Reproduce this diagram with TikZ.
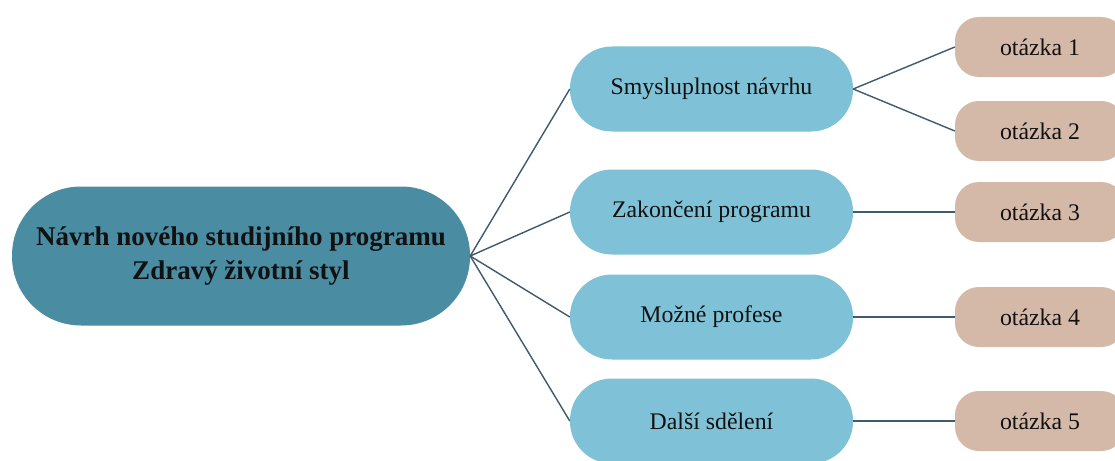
\documentclass[tikz,border=0pt]{standalone}
\usepackage{fontspec}
\setmainfont{Liberation Serif}
\definecolor{maincol}{HTML}{4A8CA2}
\definecolor{bluecol}{HTML}{7FC1D6}
\definecolor{browncol}{HTML}{D4B9A9}
\definecolor{linecol}{HTML}{3E5A6E}
\definecolor{txtcol}{HTML}{111111}
\begin{document}
\begin{tikzpicture}[x=1pt,y=-1pt,
  mainbox/.style={fill=maincol, draw=none, rounded corners=69pt, minimum width=458pt, minimum height=139pt, inner sep=0pt, align=center, text=txtcol, font=\fontsize{27}{34}\selectfont\bfseries},
  bluebox/.style={fill=bluecol, draw=none, rounded corners=42pt, minimum width=283pt, minimum height=85pt, inner sep=0pt, text=txtcol, font=\fontsize{23.8}{28}\selectfont},
  brownbox/.style={fill=browncol, draw=none, rounded corners=24pt, minimum width=170pt, minimum height=60pt, inner sep=0pt, text=txtcol, font=\fontsize{23.8}{28}\selectfont},
  conn/.style={draw=linecol, line width=1.4pt}]
\clip (0,0) rectangle (1115,460);
\fill[white] (0,0) rectangle (1115,460);
\node[mainbox] (main) at (241,256) {Návrh nového studijního programu\\Zdravý životní styl};
\node[bluebox] (b1) at (711.5,89) {Smysluplnost návrhu};
\node[bluebox] (b2) at (711.5,212) {Zakončení programu};
\node[bluebox] (b3) at (711.5,317) {Možné profese};
\node[bluebox] (b4) at (711.5,421) {Další sdělení};
\node[brownbox] (q1) at (1040,47) {otázka 1};
\node[brownbox] (q2) at (1040,131) {otázka 2};
\node[brownbox] (q3) at (1040,212) {otázka 3};
\node[brownbox] (q4) at (1040,317) {otázka 4};
\node[brownbox] (q5) at (1040,421) {otázka 5};
\foreach \b in {b1,b2,b3,b4} \draw[conn] (main.east) -- (\b.west);
\draw[conn] (b1.east) -- (q1.west);
\draw[conn] (b1.east) -- (q2.west);
\draw[conn] (b2.east) -- (q3.west);
\draw[conn] (b3.east) -- (q4.west);
\draw[conn] (b4.east) -- (q5.west);
\end{tikzpicture}
\end{document}
